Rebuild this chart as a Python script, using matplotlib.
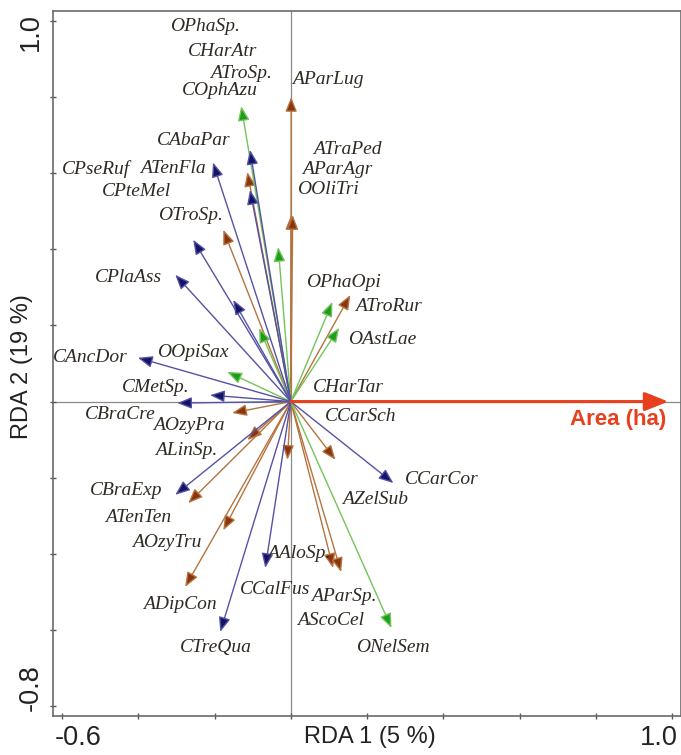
import matplotlib
matplotlib.use("Agg")
import matplotlib.pyplot as plt
from matplotlib.patches import FancyArrowPatch
import matplotlib.transforms as mtransforms

# RDA biplot: species arrows (blue = C, brown = A, green = O) and the area vector
navy_x = [-0.204, -0.107, -0.107, -0.256, -0.303, -0.151, -0.401, -0.212,
          -0.298, -0.303, -0.067, -0.185, 0.269]
navy_y = [0.628, 0.661, 0.556, 0.425, 0.333, 0.267, 0.115, 0.017,
          -0.004, -0.245, -0.437, -0.605, -0.214]

brown_x = [0.001, -0.114, -0.177, 0.001, 0.005, 0.156, -0.154, -0.114,
           -0.269, -0.177, -0.277, -0.009, 0.117, 0.111, 0.132]
brown_y = [0.800, 0.603, 0.451, 0.490, 0.490, 0.280, -0.030, -0.101,
           -0.267, -0.338, -0.487, -0.153, -0.153, -0.437, -0.448]

green_x = [-0.130, 0.109, 0.127, -0.167, -0.083, -0.033, 0.264]
green_y = [0.776, 0.262, 0.194, 0.078, 0.193, 0.406, -0.595]

area_x, area_y = 0.990, 0.0

species = ["OPhaSp.", "CHarAtr", "ATroSp.", "COphAzu", "AParLug", "ATraPed",
           "AParAgr", "OOliTri", "CAbaPar", "CPseRuf", "ATenFla", "CPteMel",
           "OTroSp.", "CPlaAss", "OPhaOpi", "ATroRur", "OAstLae", "CHarTar",
           "CCarSch", "OOpiSax", "CAncDor", "CMetSp.", "CBraCre", "AOzyPra",
           "ALinSp.", "CBraExp", "ATenTen", "AOzyTru", "AAloSp.", "CCalFus",
           "ADipCon", "CTreQua", "CCarCor", "AZelSub", "AParSp.", "AScoCel",
           "ONelSem"]
label_x = [-0.317, -0.269, -0.212, -0.285, 0.004, 0.059, 0.030, 0.017,
           -0.351, -0.600, -0.395, -0.495, -0.348, -0.513, 0.040, 0.169,
           0.151, 0.059, 0.090, -0.351, -0.624, -0.443, -0.540, -0.361,
           -0.356, -0.527, -0.487, -0.416, -0.062, -0.133, -0.388, -0.290,
           0.298, 0.135, 0.053, 0.017, 0.171]
label_y = [0.984, 0.919, 0.863, 0.816, 0.845, 0.661, 0.609, 0.556,
           0.685, 0.611, 0.611, 0.551, 0.490, 0.327, 0.312, 0.249,
           0.164, 0.036, -0.040, 0.128, 0.115, 0.038, -0.035, -0.062,
           -0.128, -0.233, -0.304, -0.369, -0.398, -0.495, -0.534, -0.647,
           -0.206, -0.258, -0.513, -0.576, -0.645]

W, H = 681, 755
fig = plt.figure(figsize=(W / 100, H / 100), dpi=100)
ax = fig.add_axes([52.5 / W, 1 - 716 / H, (680.5 - 52.5) / W, (716 - 11) / H])
ax.set_xlim(-0.625, 1.022)
ax.set_ylim(-0.826, 1.026)

ax.axhline(0, color="#8a8a8a", lw=0.9, zorder=1)
ax.axvline(0, color="#8a8a8a", lw=0.9, zorder=1)


def arrow(x, y, line_c, head_c, lw=1.0, scale=22, style="-|>,head_length=0.4,head_width=0.16"):
    p = FancyArrowPatch((0, 0), (x, y), arrowstyle=style, mutation_scale=scale,
                        shrinkA=0, shrinkB=0, lw=lw, edgecolor=line_c,
                        facecolor=head_c, zorder=3)
    ax.add_patch(p)


for x, y in zip(brown_x, brown_y):
    arrow(x, y, "#b5743f", "#8a3410")
for x, y in zip(green_x, green_y):
    arrow(x, y, "#74c45a", "#1e9c1e")
for x, y in zip(navy_x, navy_y):
    arrow(x, y, "#5552a4", "#141466")

arrow(area_x, area_y, "#e8401c", "#e8401c", lw=2.2, scale=26,
      style="-|>,head_length=0.55,head_width=0.22")
ax.text(0.985, -0.048, "Area (ha)", color="#e8401c", fontsize=16,
        fontweight="bold", family="Liberation Sans", ha="right", va="center")

for name, x, y in zip(species, label_x, label_y):
    ax.text(x, y, name, fontsize=14, style="italic", family="Liberation Serif",
            color="#2f2a22", ha="left", va="center", zorder=4)

for s in ax.spines.values():
    s.set_color("#6a6a6a")
    s.set_linewidth(1.2)

ticks_x = [-0.6, -0.4, -0.2, 0.0, 0.2, 0.4, 0.6, 0.8, 1.0]
ticks_y = [-0.8, -0.6, -0.4, -0.2, 0.0, 0.2, 0.4, 0.6, 0.8, 1.0]
ax.set_xticks(ticks_x)
ax.set_yticks(ticks_y)
ax.set_xticklabels(["-0.6"] + [""] * 7 + ["1.0"])
ax.set_yticklabels(["-0.8"] + [""] * 8 + ["1.0"], rotation=90, va="center")
ax.tick_params(direction="inout", length=5, width=1, color="#555555",
               labelsize=19.5, labelcolor="#222222", pad=4)
for lab in ax.get_xticklabels() + ax.get_yticklabels():
    lab.set_family("Liberation Sans")

xl = ax.get_xticklabels()
xl[0].set_transform(xl[0].get_transform() + mtransforms.ScaledTranslation(0.16, 0, fig.dpi_scale_trans))
xl[-1].set_transform(xl[-1].get_transform() + mtransforms.ScaledTranslation(-0.13, 0, fig.dpi_scale_trans))
yl = ax.get_yticklabels()
yl[0].set_transform(yl[0].get_transform() + mtransforms.ScaledTranslation(0, 0.18, fig.dpi_scale_trans))
yl[-1].set_transform(yl[-1].get_transform() + mtransforms.ScaledTranslation(0, -0.11, fig.dpi_scale_trans))

fig.text(370 / W, 1 - 737 / H, "RDA 1 (5 %)", fontsize=17, family="Liberation Sans",
         color="#222222", ha="center", va="center")
fig.text(22 / W, 1 - 367 / H, "RDA 2 (19 %)", fontsize=17, family="Liberation Sans",
         color="#222222", ha="center", va="center", rotation=90)

fig.savefig("out.png", dpi=100)
